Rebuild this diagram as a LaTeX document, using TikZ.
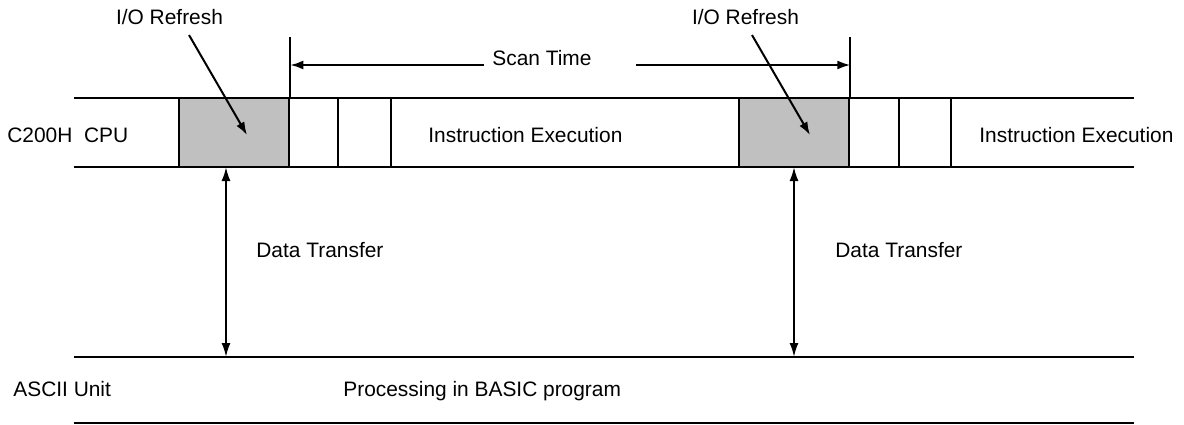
\documentclass[tikz,border=0pt]{standalone}
\usepackage{fontspec}
\setmainfont{Liberation Sans}
\usetikzlibrary{arrows.meta,calc}
\definecolor{refreshgray}{RGB}{192,192,192}

\begin{document}
\begin{tikzpicture}[x=0.5pt, y=-0.5pt,
    band/.style={line width=1.3pt},
    refresh/.style={draw=black, line width=1.3pt, fill=refreshgray, minimum width=55pt, minimum height=34.5pt, inner sep=0pt},
    lbl/.style={font=\fontsize{10.45}{12}\selectfont, inner sep=0pt},
    arr/.style={line width=1pt, -{Latex[length=6.5pt,width=4.5pt]}},
    darr/.style={line width=1pt, {Latex[length=7pt,width=4.5pt]}-{Latex[length=7pt,width=4.5pt]}}
]
\useasboundingbox (0,0) rectangle (1184,424);

% CPU band and ASCII unit band
\draw[band] (74,98) -- (1134,98);
\draw[band] (74,167) -- (1134,167);
\draw[band] (74,357) -- (1134,357);
\draw[band] (74,423) -- (1134,423);

% I/O refresh periods
\node[refresh] (io1) at (234,132.5) {};
\node[refresh] (io2) at (794,132.5) {};
\foreach \x in {338,391,899,951}
    \draw[band] (\x,98) -- (\x,167);

% scan time
\draw[line width=1pt] (io1.north east) -- ++(0,-60) coordinate (st1);
\draw[line width=1pt] (io2.north east) -- ++(0,-60) coordinate (st2);
\node[lbl, anchor=base west] (scan) at (492,65) {Scan Time};
\coordinate (sl) at (484,65);
\coordinate (sr) at (636,65);
\draw[arr] (sl) -- (sl -| st1);
\draw[arr] (sr) -- (sr -| st2);

% labels
\node[lbl, anchor=base west] (cpu)  at (7,142)   {C200H\ \ CPU};
\node[lbl, anchor=base west] (ie1)  at (428,142) {Instruction Execution};
\node[lbl, anchor=base west] (ie2)  at (979,142) {Instruction Execution};
\node[lbl, anchor=base] (ref1) at (169.5,24) {I/O Refresh};
\node[lbl, anchor=base] (ref2) at (745.5,24) {I/O Refresh};
\node[lbl, anchor=base west] (dt1)  at (256,257) {Data Transfer};
\node[lbl, anchor=base west] (dt2)  at (835,257) {Data Transfer};
\node[lbl, anchor=base west] (ascii) at (13,396) {ASCII Unit};
\node[lbl, anchor=base west] (basic) at (343,396) {Processing in BASIC program};

% I/O refresh pointers
\coordinate (tail1) at (189,35);
\coordinate (tip1)  at (247,135);
\coordinate (tail2) at (752,35);
\coordinate (tip2)  at (810,135);
\draw[arr] (tail1) -- (tip1);
\draw[arr] (tail2) -- (tip2);

% data transfer
\coordinate (cpu1) at (226,167);
\coordinate (asc1) at (226,357);
\coordinate (cpu2) at (794,167);
\coordinate (asc2) at (794,357);
\draw[darr] (cpu1) -- (asc1);
\draw[darr] (cpu2) -- (asc2);
\end{tikzpicture}
\end{document}
